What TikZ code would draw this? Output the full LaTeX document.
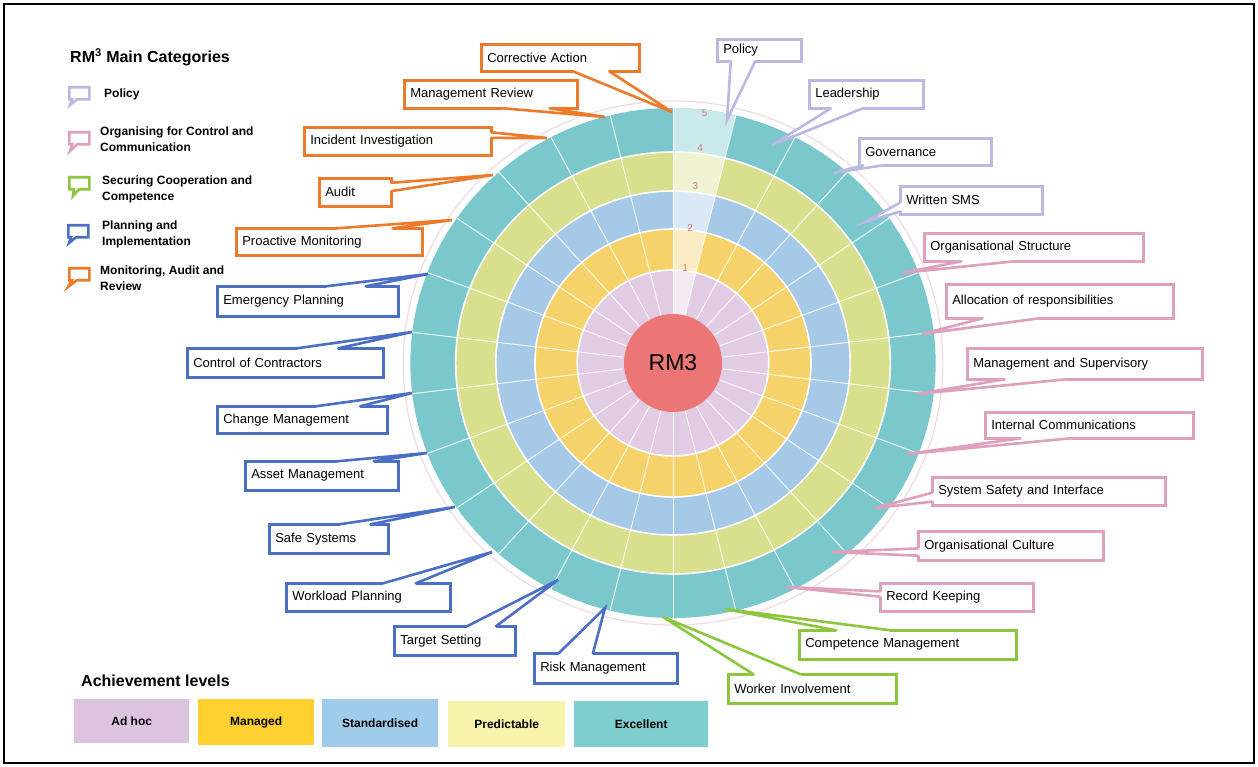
\documentclass[tikz,border=0pt]{standalone}
\usepackage{fontspec}
\setmainfont{Liberation Sans}
\usetikzlibrary{calc,shapes.callouts}
\definecolor{polc}{RGB}{185,185,228}
\definecolor{orgc}{RGB}{222,160,188}
\definecolor{coopc}{RGB}{140,198,63}
\definecolor{planc}{RGB}{74,111,196}
\definecolor{monc}{RGB}{236,122,42}
\definecolor{adhoc}{RGB}{226,204,228}
\definecolor{managed}{RGB}{245,210,106}
\definecolor{stand}{RGB}{166,201,232}
\definecolor{predict}{RGB}{216,224,142}
\definecolor{excel}{RGB}{122,200,204}
\definecolor{hubred}{RGB}{236,118,118}
\definecolor{numc}{RGB}{214,120,124}
\definecolor{keyadhoc}{RGB}{221,196,222}
\definecolor{keymanaged}{RGB}{254,208,48}
\definecolor{keystand}{RGB}{160,204,236}
\definecolor{keypredict}{RGB}{247,243,170}
\definecolor{keyexcel}{RGB}{126,206,208}
% wedge of a callout: colour, box, side from, side to, base fractions, tip
\newcommand{\wedgeto}[7]{%
  \path ($(#2.#3)!#5!(#2.#4)$) coordinate (#2-b1) ($(#2.#3)!#6!(#2.#4)$) coordinate (#2-b2);
  \draw[white,line width=3pt] (#2-b1) -- (#2-b2);
  \fill[white] (#2-b1) -- (#7) -- (#2-b2) -- cycle;
  \draw[#1,wedgeline] (#2-b1) -- (#7) -- (#2-b2);}
\tikzset{
  cbox/.style 2 args={rectangle,fill=white,line width=2.6pt,outer sep=0pt,anchor=north west,
    xshift=1.3pt,yshift=-1.3pt,inner xsep=6pt,inner ysep=0pt,align=left,
    text width={(#1-15)*1pt},minimum height={(#2-3)*1pt},font=\fontsize{13}{15}\selectfont},
  wedgeline/.style={line width=2.6pt,line cap=round,line join=miter},
  icon/.style={rectangle callout,fill=white,line width=2.6pt,anchor=north west,inner sep=0pt,
    minimum width=20pt,minimum height=12pt,callout pointer width=5pt},
  legtxt/.style={anchor=west,align=left,inner sep=0pt,font=\bfseries\fontsize{12}{16}\selectfont},
  lvbox/.style={anchor=north west,inner sep=0pt,font=\bfseries\fontsize{12}{14}\selectfont},
  head/.style={anchor=west,inner sep=0pt,font=\bfseries\fontsize{16}{18}\selectfont},
  ringline/.style={white,line width=1.6pt},
  spoke/.style={white,line width=1pt,opacity=.85},
  lvl/.style={numc,inner sep=0pt,font=\fontsize{10}{11}\selectfont}
}
\begin{document}
\begin{tikzpicture}[x=1pt,y=-1pt]
\useasboundingbox (0,0) rectangle (1258,767);
\draw[line width=2pt] (4,4) rectangle (1254,763);

% wheel
\begin{scope}[shift={(673,363)},xscale=1.03]
  \draw[orgc!40!white,line width=1.2pt] (0,0) circle[radius=262];
  \foreach \r/\c in {255/excel,211/predict,172/stand,134/managed,93/adhoc}{
    \fill[\c] (0,0) circle[radius=\r];
    \fill[\c!40!white] (0,0) -- (-90:\r) arc[start angle=-90,end angle=-76.15,radius=\r] -- cycle;
  }
  \foreach \r in {93,134,172,211} \draw[ringline] (0,0) circle[radius=\r];
  \foreach \k in {0,...,25} \draw[spoke] (-90+\k*360/26:49) -- (-90+\k*360/26:255);
  \foreach \n/\r in {1/96,2/136,3/178,4/217,5/252} \node[lvl] (lv\n) at (-83:\r) {\n};
\end{scope}
\node[circle,fill=hubred,minimum size=98pt,inner sep=0pt,font=\fontsize{23}{25}\selectfont] (hub) at (673,363) {RM3};

% pointer tips
\coordinate (t-corract) at (672,112); \coordinate (t-mgmtrev) at (605,117);
\coordinate (t-incinv) at (547,138); \coordinate (t-audit) at (493,175);
\coordinate (t-proact) at (452,220); \coordinate (t-emerg) at (428,274);
\coordinate (t-contr) at (412,332); \coordinate (t-change) at (412,393);
\coordinate (t-asset) at (427,453); \coordinate (t-safesys) at (455,507);
\coordinate (t-workload) at (492,552); \coordinate (t-target) at (558,580);
\coordinate (t-risk) at (605,608); \coordinate (t-worker) at (663,617);
\coordinate (t-compet) at (725,609); \coordinate (t-record) at (786,587);
\coordinate (t-culture) at (832,552); \coordinate (t-syssafe) at (875,508);
\coordinate (t-intcomm) at (907,454); \coordinate (t-mgmtsup) at (917,394);
\coordinate (t-alloc) at (922,334); \coordinate (t-orgstruct) at (902,273);
\coordinate (t-sms) at (865,222); \coordinate (t-gov) at (833,173);
\coordinate (t-lead) at (772,145); \coordinate (t-policy) at (727,120);

% monitoring, audit and review
\node[cbox={161}{30},draw=monc] (corract) at (480,43) {Corrective Action};
\node[cbox={176}{31},draw=monc] (mgmtrev) at (403,79) {Management Review};
\node[cbox={190}{31},draw=monc] (incinv) at (303,126) {Incident Investigation};
\node[cbox={75}{31},draw=monc] (audit) at (318,177) {Audit};
\node[cbox={189}{30},draw=monc] (proact) at (235,227) {Proactive Monitoring};
\wedgeto{monc}{corract}{south west}{south east}{0.58}{0.81}{t-corract}
\wedgeto{monc}{mgmtrev}{south west}{south east}{0.57}{0.84}{t-mgmtrev}
\wedgeto{monc}{incinv}{north east}{south east}{0.18}{0.38}{t-incinv}
\wedgeto{monc}{audit}{north east}{south east}{0.16}{0.46}{t-audit}
\wedgeto{monc}{proact}{north west}{north east}{0.54}{0.84}{t-proact}

% planning and implementation
\node[cbox={184}{33},draw=planc] (emerg) at (216,285) {Emergency Planning};
\node[cbox={199}{32},draw=planc] (contr) at (186,347) {Control of Contractors};
\node[cbox={173}{30},draw=planc] (change) at (216,405) {Change Management};
\node[cbox={156}{32},draw=planc] (asset) at (244,460) {Asset Management};
\node[cbox={122}{32},draw=planc] (safesys) at (268,523) {Safe Systems};
\node[cbox={167}{31},draw=planc] (workload) at (285,582) {Workload Planning};
\node[cbox={124}{32},draw=planc] (target) at (393,625) {Target Setting};
\node[cbox={146}{33},draw=planc] (risk) at (533,652) {Risk Management};
\wedgeto{planc}{emerg}{north west}{north east}{0.60}{0.82}{t-emerg}
\wedgeto{planc}{contr}{north west}{north east}{0.56}{0.77}{t-contr}
\wedgeto{planc}{change}{north west}{north east}{0.58}{0.84}{t-change}
\wedgeto{planc}{asset}{north west}{north east}{0.60}{0.84}{t-asset}
\wedgeto{planc}{safesys}{north west}{north east}{0.59}{0.85}{t-safesys}
\wedgeto{planc}{workload}{north west}{north east}{0.59}{0.79}{t-workload}
\wedgeto{planc}{target}{north west}{north east}{0.60}{0.84}{t-target}
\wedgeto{planc}{risk}{north west}{north east}{0.17}{0.41}{t-risk}

% securing cooperation and competence
\node[cbox={171}{32},draw=coopc] (worker) at (727,673) {Worker Involvement};
\node[cbox={220}{32},draw=coopc] (compet) at (798,629) {Competence Management};
\wedgeto{coopc}{worker}{north west}{north east}{0.15}{0.43}{t-worker}
\wedgeto{coopc}{compet}{north west}{north east}{0.17}{0.42}{t-compet}

% organising for control and communication
\node[cbox={156}{31},draw=orgc] (record) at (879,582) {Record Keeping};
\node[cbox={188}{32},draw=orgc] (culture) at (917,530) {Organisational Culture};
\node[cbox={236}{31},draw=orgc] (syssafe) at (931,476) {System Safety and Interface};
\node[cbox={211}{29},draw=orgc] (intcomm) at (984,411) {Internal Communications};
\node[cbox={238}{34},draw=orgc] (mgmtsup) at (966,347) {Management and Supervisory};
\node[cbox={230}{37},draw=orgc] (alloc) at (945,283) {Allocation of responsibilities};
\node[cbox={222}{31},draw=orgc] (orgstruct) at (923,232) {Organisational Structure};
\wedgeto{orgc}{record}{north west}{south west}{0.29}{0.48}{t-record}
\wedgeto{orgc}{culture}{north west}{south west}{0.59}{0.84}{t-culture}
\wedgeto{orgc}{syssafe}{north west}{south west}{0.55}{0.87}{t-syssafe}
\wedgeto{orgc}{intcomm}{south west}{south east}{0.17}{0.41}{t-intcomm}
\wedgeto{orgc}{mgmtsup}{south west}{south east}{0.16}{0.42}{t-mgmtsup}
\wedgeto{orgc}{alloc}{south west}{south east}{0.16}{0.41}{t-alloc}
\wedgeto{orgc}{orgstruct}{south west}{south east}{0.17}{0.41}{t-orgstruct}

% policy
\node[cbox={145}{31},draw=polc] (sms) at (899,185) {Written SMS};
\node[cbox={135}{30},draw=polc] (gov) at (858,137) {Governance};
\node[cbox={117}{31},draw=polc] (lead) at (808,79) {Leadership};
\node[cbox={87}{25},draw=polc] (policy) at (716,38) {Policy};
\wedgeto{polc}{sms}{north west}{south west}{0.58}{0.90}{t-sms}
\wedgeto{polc}{gov}{south west}{south east}{0.03}{0.18}{t-gov}
\wedgeto{polc}{lead}{south west}{south east}{0.19}{0.47}{t-lead}
\wedgeto{polc}{policy}{south west}{south east}{0.16}{0.45}{t-policy}

% legend
\node[head] (cathead) at (70,57) {RM\textsuperscript{3} Main Categories};
\coordinate (i-pol) at (70,105); \coordinate (i-org) at (70,151); \coordinate (i-coop) at (73,196);
\coordinate (i-plan) at (69,243); \coordinate (i-mon) at (68,287);
\node[icon,draw=polc,callout absolute pointer={(i-pol)}] (ipol) at (68,86) {};
\node[icon,draw=orgc,callout absolute pointer={(i-org)}] (iorg) at (68,131) {};
\node[icon,draw=coopc,callout absolute pointer={(i-coop)}] (icoop) at (68,176) {};
\node[icon,draw=planc,callout absolute pointer={(i-plan)}] (iplan) at (67,224) {};
\node[icon,draw=monc,callout absolute pointer={(i-mon)}] (imon) at (68,267) {};
\node[legtxt] (lpol) at (104,94) {Policy};
\node[legtxt] (lorg) at (100,139) {Organising for Control and\\Communication};
\node[legtxt] (lcoop) at (102,189) {Securing Cooperation and\\Competence};
\node[legtxt] (lplan) at (102,234) {Planning and\\Implementation};
\node[legtxt] (lmon) at (100,278) {Monitoring, Audit and\\Review};

% achievement levels
\node[head] (lvhead) at (81,681) {Achievement levels};
\node[lvbox,fill=keyadhoc,minimum width=115pt,minimum height=44pt] (badhoc) at (74,699) {Ad hoc};
\node[lvbox,fill=keymanaged,minimum width=116pt,minimum height=46pt] (bmanaged) at (198,699) {Managed};
\node[lvbox,fill=keystand,minimum width=116pt,minimum height=48pt] (bstand) at (322,699) {Standardised};
\node[lvbox,fill=keypredict,minimum width=117pt,minimum height=46pt] (bpredict) at (448,701) {Predictable};
\node[lvbox,fill=keyexcel,minimum width=134pt,minimum height=46pt] (bexcel) at (574,701) {Excellent};
\end{tikzpicture}
\end{document}
